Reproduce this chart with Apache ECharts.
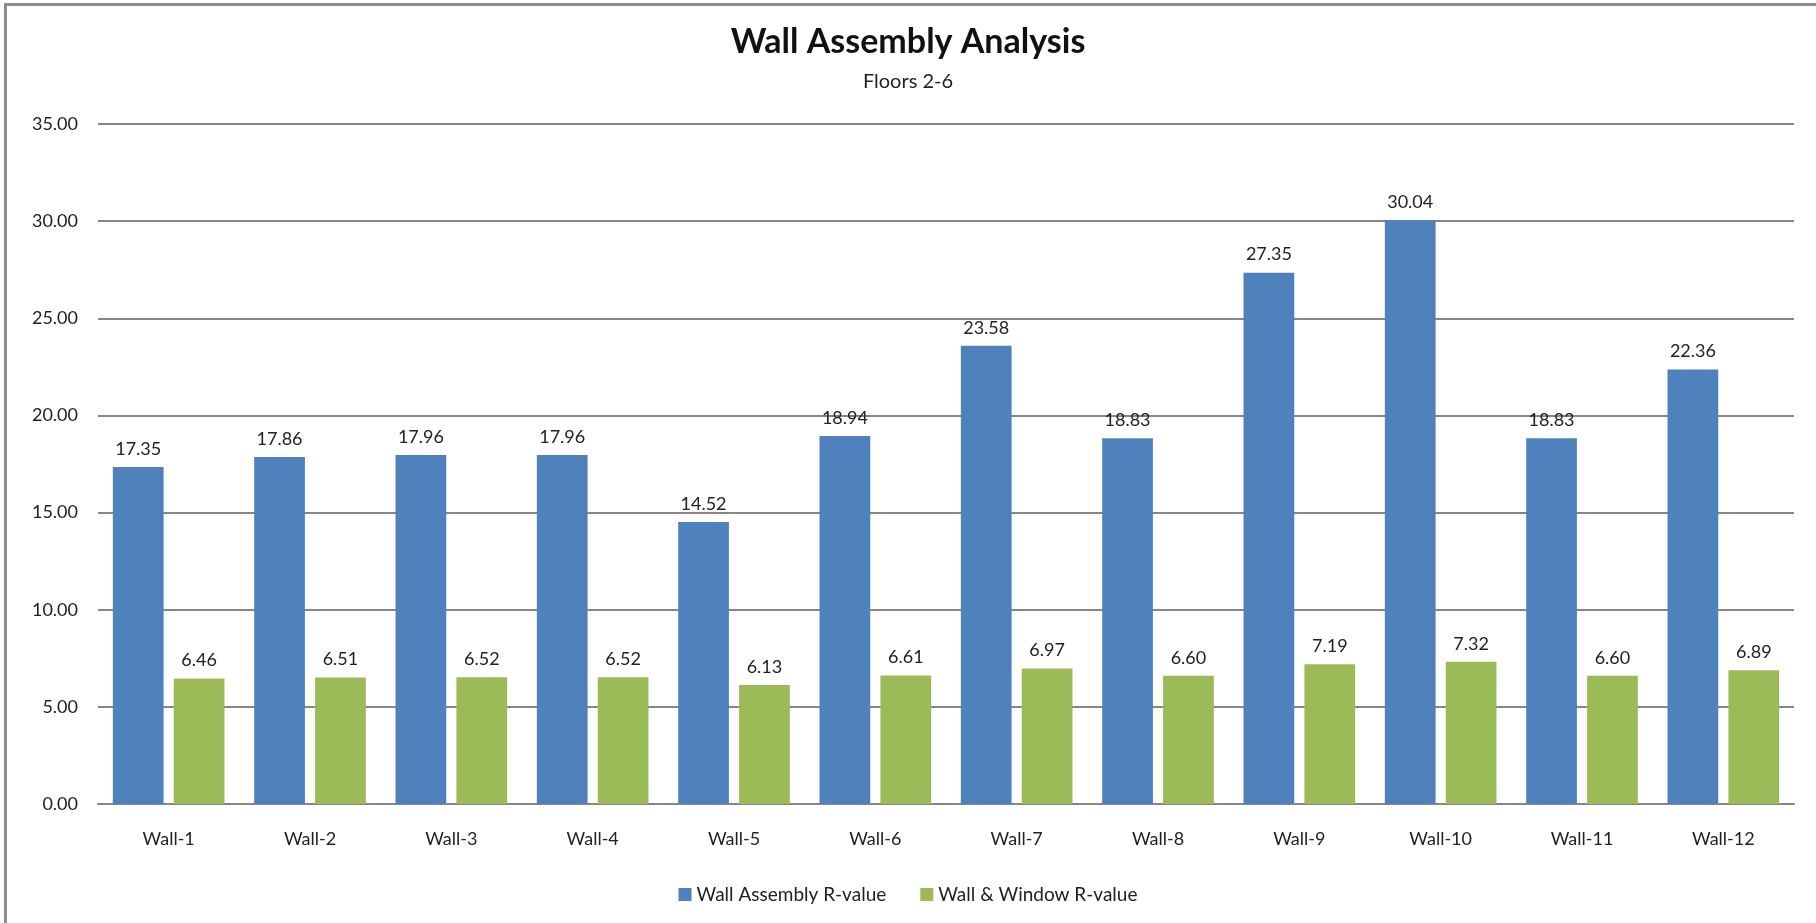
<!DOCTYPE html>
<html lang="en">
<head>
    <meta charset="UTF-8">
    <title>Wall Assembly Analysis</title>
    <script src="https://cdn.jsdelivr.net/npm/echarts@6/dist/echarts.min.js"></script>
    <style>
        html, body { margin: 0; padding: 0; background: #fff; }
        #frame {
            position: absolute; left: 4px; top: 3px; width: 1812px; height: 920px;
            border-left: 3px solid #8c8c8c; border-top: 3px solid #8c8c8c;
            box-sizing: border-box;
        }
        #chart { position: absolute; left: 0; top: 0; width: 1816px; height: 923px; }
    </style>
</head>
<body>
<div id="frame"></div>
<div id="chart"></div>
<script type="text/javascript">
    var walls = ['Wall-1', 'Wall-2', 'Wall-3', 'Wall-4', 'Wall-5', 'Wall-6',
        'Wall-7', 'Wall-8', 'Wall-9', 'Wall-10', 'Wall-11', 'Wall-12'];
    var wallAssembly = [17.35, 17.86, 17.96, 17.96, 14.52, 18.94, 23.58, 18.83, 27.35, 30.04, 18.83, 22.36];
    var wallWindow = [6.46, 6.51, 6.52, 6.52, 6.13, 6.61, 6.97, 6.60, 7.19, 7.32, 6.60, 6.89];

    var font = 'Lato, "Open Sans", sans-serif';
    var myChart = echarts.init(document.getElementById('chart'));
    var option = {
        textStyle: { fontFamily: font },
        animation: false,
        title: [
            {
                text: 'Wall Assembly Analysis',
                left: 'center', top: 25, padding: 0,
                textStyle: { fontFamily: font, fontSize: 34, fontWeight: 'bold', color: '#111' }
            },
            {
                text: 'Floors 2-6',
                left: 'center', top: 72, padding: 0,
                textStyle: { fontFamily: font, fontSize: 20, fontWeight: 'normal', color: '#222' }
            }
        ],
        legend: {
            bottom: 14,
            left: 'center',
            itemWidth: 13, itemHeight: 13,
            itemGap: 34,
            icon: 'rect',
            textStyle: { fontFamily: font, fontSize: 19, color: '#222' },
            data: ['Wall Assembly R-value', 'Wall & Window R-value']
        },
        grid: { left: 98, right: 22, top: 124, bottom: 119 },
        xAxis: {
            type: 'category',
            data: walls,
            axisTick: { show: false },
            axisLine: { lineStyle: { color: '#868686', width: 2 } },
            axisLabel: { fontFamily: font, fontSize: 18, color: '#222', margin: 26 }
        },
        yAxis: {
            type: 'value',
            min: 0, max: 35, interval: 5,
            axisLine: { show: false },
            axisTick: { show: false },
            splitLine: { lineStyle: { color: '#868686', width: 2 } },
            axisLabel: {
                fontFamily: font, fontSize: 18, color: '#222', margin: 20,
                formatter: function (v) { return v.toFixed(2); }
            }
        },
        series: [
            {
                name: 'Wall Assembly R-value',
                type: 'bar',
                data: wallAssembly,
                barGap: '20%',
                barCategoryGap: '21%',
                itemStyle: { color: '#4f81bd' },
                label: {
                    show: true, position: 'top', distance: 9,
                    fontFamily: font, fontSize: 18, color: '#222',
                    formatter: function (p) { return p.value.toFixed(2); }
                }
            },
            {
                name: 'Wall & Window R-value',
                type: 'bar',
                data: wallWindow,
                itemStyle: { color: '#9bbb59' },
                label: {
                    show: true, position: 'top', distance: 9,
                    fontFamily: font, fontSize: 18, color: '#222',
                    formatter: function (p) { return p.value.toFixed(2); }
                }
            }
        ]
    };
    myChart.setOption(option);
    window.onresize = myChart.resize;
</script>
</body>
</html>
